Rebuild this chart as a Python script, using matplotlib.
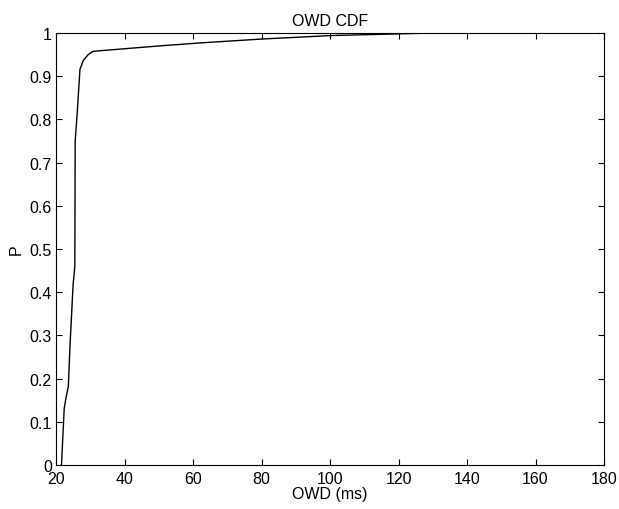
import matplotlib
matplotlib.use('Agg')
import matplotlib.pyplot as plt

# OWD samples (ms) and cumulative probability
owd = [21.6, 22.4, 22.9, 23.6, 24.1, 25.0, 25.5, 25.6, 26.2, 27.0, 28.0, 29.4, 30.7, 31.4,
       50, 62, 80, 100, 120, 130, 180]
prob = [0.0, 0.131, 0.155, 0.182, 0.278, 0.418, 0.46, 0.75, 0.816, 0.916, 0.937, 0.95, 0.957, 0.958,
        0.970, 0.977, 0.986, 0.994, 0.998, 1.0, 1.0]
xticks = [20, 40, 60, 80, 100, 120, 140, 160, 180]
yticks = [0, 0.1, 0.2, 0.3, 0.4, 0.5, 0.6, 0.7, 0.8, 0.9, 1]

plt.rcParams['font.family'] = ['Liberation Sans', 'DejaVu Sans']
plt.rcParams['font.size'] = 11.5

fig = plt.figure(figsize=(6.19, 5.10), dpi=100)
ax = fig.add_axes([56 / 619, 44 / 510, 548 / 619, 432 / 510])
ax.plot(owd, prob, color='black', linewidth=1.0)
ax.set_xlim(20, 180)
ax.set_ylim(0, 1)
ax.set_xticks(xticks)
ax.set_yticks(yticks)
ax.set_yticklabels(['0', '0.1', '0.2', '0.3', '0.4', '0.5', '0.6', '0.7', '0.8', '0.9', '1'])
ax.tick_params(direction='in', top=True, right=True, length=4, width=0.8, pad=2)
ax.tick_params(axis='x', pad=4)
ax.tick_params(axis='y', pad=3)
for s in ax.spines.values():
    s.set_linewidth(0.8)
ax.set_xlabel('OWD (ms)', labelpad=0)
ax.set_ylabel('P', labelpad=4)
ax.set_title('OWD CDF', pad=6, fontsize=11.5)
fig.savefig('out.png', dpi=100)
